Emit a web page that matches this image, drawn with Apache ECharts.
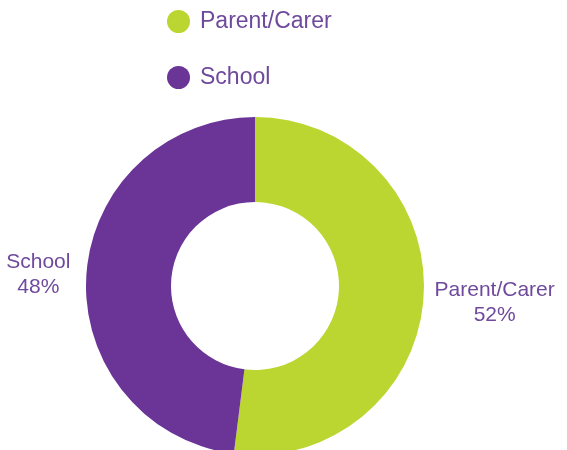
<!DOCTYPE html>
<html>
<head>
<meta charset="utf-8">
<script src="https://cdn.jsdelivr.net/npm/echarts@6/dist/echarts.min.js"></script>
<style>
    html, body { margin: 0; padding: 0; background: #fff; }
    #chart { width: 567px; height: 450px; }
</style>
</head>
<body>
<div id="chart"></div>
<script>
    var categories = ['Parent/Carer', 'School'];
    var values = [52, 48];
    var colors = ['#bcd631', '#6b3598'];
    // label block widths so the two lines sit centred on each other
    var labelWidths = [120, 74];
    var labelPadding = [[12, 0, 0, 0], [0, 0, 0, 0]];

    var seriesData = categories.map(function (name, i) {
        return {
            name: name,
            value: values[i],
            itemStyle: {color: colors[i]},
            label: {
                padding: labelPadding[i],
                rich: {
                    t: {width: labelWidths[i], align: 'center'}
                }
            }
        };
    });

    var myChart = echarts.init(document.getElementById('chart'));
    myChart.setOption({
        animation: false,
        legend: {
            orient: 'vertical',
            left: 162,
            top: 5,
            icon: 'circle',
            itemWidth: 33,
            itemHeight: 23,
            itemGap: 33,
            itemStyle: {borderWidth: 0},
            textStyle: {
                color: '#6f4a9c',
                fontSize: 23,
                fontFamily: 'Liberation Sans'
            },
            data: categories
        },
        series: [
            {
                type: 'pie',
                center: [255, 286],
                radius: [84, 169],
                startAngle: 90,
                clockwise: true,
                avoidLabelOverlap: false,
                label: {
                    position: 'outside',
                    formatter: '{t|{b}}\n{t|{d}%}',
                    color: '#6f4a9c',
                    fontSize: 21,
                    lineHeight: 25,
                    fontFamily: 'Liberation Sans'
                },
                labelLine: {show: false, length: 3, length2: 3},
                data: seriesData
            }
        ]
    });
</script>
</body>
</html>
